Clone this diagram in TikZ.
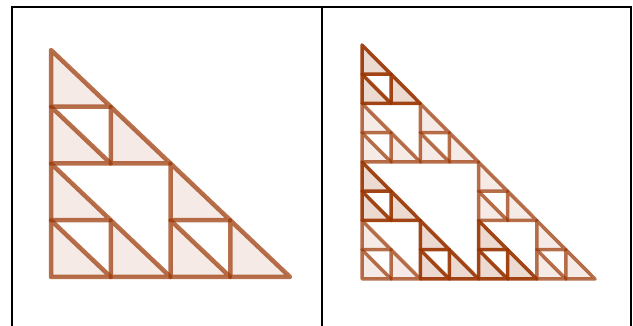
\documentclass[tikz,border=0pt]{standalone}
\usepackage{tikz}
\usepackage{xcolor}
\definecolor{sierBrown}{RGB}{153,51,0}
\newcommand{\sierCell}[3][sierLight]{\draw[#1] (#2,#3) -- ++(1,0) -- ++(-1,1) -- cycle;}

\begin{document}
\begin{tikzpicture}[x=1pt,y=-1pt,
  sierLight/.style={draw=sierBrown,draw opacity=0.7,fill=sierBrown,fill opacity=0.1,line join=round},
  sierDark/.style={sierLight,draw opacity=0.91,fill opacity=0.19}]
\useasboundingbox (0,0) rectangle (633,326);
\draw[line width=2pt] (12,326) -- (12,7) -- (631,7) -- (631,326);
\draw[line width=2pt] (322,7) -- (322,326);
\begin{scope}[shift={(51,277)},x={(59.75pt,0pt)},y={(0pt,56.75pt)},line width=4.5pt]
\sierCell{0}{0}
\sierCell{1}{0}
\sierCell{0}{1}
\sierCell{2}{0}
\sierCell{3}{0}
\sierCell{2}{1}
\sierCell{0}{2}
\sierCell{1}{2}
\sierCell{0}{3}
\end{scope}
\begin{scope}[shift={(362,279)},x={(29.125pt,0pt)},y={(0pt,29.25pt)},line width=3.5pt]
\sierCell{0}{0}
\sierCell{1}{0}
\sierCell{0}{1}
\sierCell{6}{0}
\sierCell{7}{0}
\sierCell{6}{1}
\sierCell{4}{2}
\sierCell{5}{2}
\sierCell{4}{3}
\sierCell{0}{4}
\sierCell{1}{4}
\sierCell{0}{5}
\sierCell{2}{4}
\sierCell{3}{4}
\sierCell{2}{5}
\sierCell[sierDark]{2}{0}
\sierCell[sierDark]{3}{0}
\sierCell[sierDark]{2}{1}
\sierCell[sierDark]{0}{2}
\sierCell[sierDark]{1}{2}
\sierCell[sierDark]{0}{3}
\sierCell[sierDark]{4}{0}
\sierCell[sierDark]{5}{0}
\sierCell[sierDark]{4}{1}
\sierCell[sierDark]{0}{6}
\sierCell[sierDark]{1}{6}
\sierCell[sierDark]{0}{7}
\end{scope}
\end{tikzpicture}
\end{document}
